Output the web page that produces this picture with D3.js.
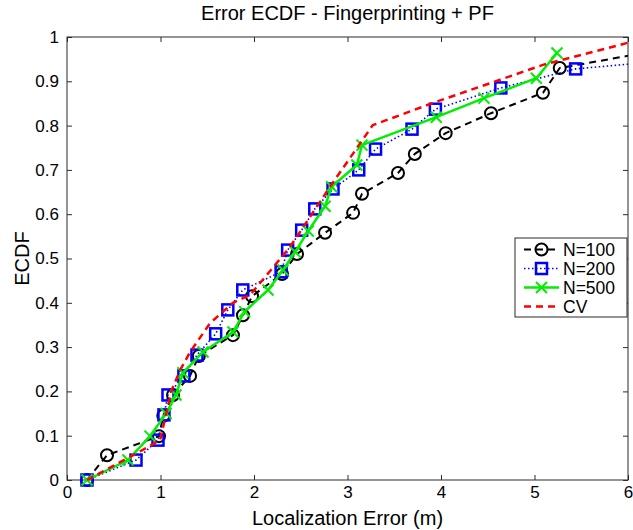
<!DOCTYPE html>
<html>
<head>
<meta charset="utf-8">
<script src="https://cdn.jsdelivr.net/npm/d3@7"></script>
<style>
  html, body { margin: 0; padding: 0; background: #fff; }
  svg { display: block; font-family: "Liberation Sans", Arial, sans-serif; }
</style>
</head>
<body>
<svg id="chart" width="633" height="530"></svg>
<script>
// Localization error (m) vs. empirical CDF, one array pair per series
const n100X = [0.214, 0.428, 0.984, 1.03, 1.134, 1.316, 1.41, 1.775, 1.882, 1.979, 2.30, 2.46, 2.76, 3.06, 3.155, 3.54, 3.72, 4.05, 4.535, 5.09, 5.27, 6.6];
const n100Y = [0, 0.056, 0.099, 0.145, 0.192, 0.235, 0.28, 0.327, 0.372, 0.415, 0.465, 0.51, 0.558, 0.603, 0.646, 0.693, 0.736, 0.783, 0.828, 0.874, 0.930, 0.98];

const n200X = [0.214, 0.738, 0.973, 1.037, 1.08, 1.25, 1.39, 1.59, 1.72, 1.88, 2.29, 2.36, 2.51, 2.65, 2.845, 3.12, 3.30, 3.69, 3.94, 4.64, 5.44, 6.6];
const n200Y = [0, 0.045, 0.090, 0.147, 0.192, 0.235, 0.282, 0.330, 0.384, 0.429, 0.47, 0.519, 0.564, 0.612, 0.657, 0.70, 0.747, 0.792, 0.837, 0.885, 0.928, 0.95];

const n500X = [0.214, 0.652, 0.888, 1.06, 1.166, 1.24, 1.455, 1.775, 1.90, 2.15, 2.31, 2.44, 2.58, 2.76, 2.83, 3.10, 3.155, 3.95, 4.46, 5.02, 5.24];
const n500Y = [0, 0.045, 0.099, 0.15, 0.192, 0.242, 0.289, 0.334, 0.38, 0.429, 0.474, 0.515, 0.562, 0.618, 0.662, 0.711, 0.756, 0.819, 0.862, 0.907, 0.964];

const cvX = [0.214, 0.75, 0.995, 1.07, 1.12, 1.21, 1.32, 1.53, 1.775, 1.96, 2.385, 2.81, 3.27, 3.94, 5.09, 6.6];
const cvY = [0, 0.061, 0.09, 0.158, 0.203, 0.248, 0.29, 0.354, 0.40, 0.418, 0.526, 0.661, 0.801, 0.853, 0.937, 1.02];

// the last N=100 / N=200 / CV entries lie beyond the x range and only carry the line to the edge
const n100Marked = n100X.length - 1;
const n200Marked = n200X.length - 1;

const xTicks = [0, 1, 2, 3, 4, 5, 6];
const yTicks = [0, 0.1, 0.2, 0.3, 0.4, 0.5, 0.6, 0.7, 0.8, 0.9, 1];
const yTickLabels = ["0", "0.1", "0.2", "0.3", "0.4", "0.5", "0.6", "0.7", "0.8", "0.9", "1"];

const titleText = "Error ECDF - Fingerprinting + PF";
const xLabel = "Localization Error (m)";
const yLabel = "ECDF";
const legendNames = ["N=100", "N=200", "N=500", "CV"];

const svg = d3.select("#chart");
const plotLeft = 67, plotRight = 628, plotTop = 37, plotBottom = 480;

const x = d3.scaleLinear().domain([0, 6]).range([plotLeft, plotRight]);
const y = d3.scaleLinear().domain([0, 1]).range([plotBottom, plotTop]);

svg.append("defs").append("clipPath").attr("id", "plotClip")
  .append("rect").attr("x", plotLeft).attr("y", plotTop - 8)
  .attr("width", plotRight - plotLeft).attr("height", plotBottom - plotTop + 16);

const axisColor = "#2b2b2b";
const tickFont = 17;

// axes with inward ticks on all four sides
svg.append("g").attr("transform", `translate(0,${plotBottom})`)
  .call(d3.axisBottom(x).tickValues(xTicks).tickSizeInner(-5).tickSizeOuter(0).tickPadding(6).tickFormat(d3.format("d")))
  .call(g => { g.select(".domain").remove(); g.selectAll("line").attr("stroke", axisColor);
    g.selectAll("text").attr("font-size", tickFont).attr("fill", "#000"); });
svg.append("g").attr("transform", `translate(0,${plotTop})`)
  .call(d3.axisTop(x).tickValues(xTicks).tickSizeInner(-5).tickSizeOuter(0).tickFormat(""))
  .call(g => { g.select(".domain").remove(); g.selectAll("line").attr("stroke", axisColor); });
svg.append("g").attr("transform", `translate(${plotLeft},0)`)
  .call(d3.axisLeft(y).tickValues(yTicks).tickSizeInner(-5).tickSizeOuter(0).tickPadding(8).tickFormat((d, i) => yTickLabels[i]))
  .call(g => { g.select(".domain").remove(); g.selectAll("line").attr("stroke", axisColor);
    g.selectAll("text").attr("font-size", tickFont).attr("fill", "#000"); });
svg.append("g").attr("transform", `translate(${plotRight},0)`)
  .call(d3.axisRight(y).tickValues(yTicks).tickSizeInner(-5).tickSizeOuter(0).tickFormat(""))
  .call(g => { g.select(".domain").remove(); g.selectAll("line").attr("stroke", axisColor); });

svg.append("rect").attr("x", plotLeft).attr("y", plotTop)
  .attr("width", plotRight - plotLeft).attr("height", plotBottom - plotTop)
  .attr("fill", "none").attr("stroke", axisColor).attr("stroke-width", 1);

const plot = svg.append("g").attr("clip-path", "url(#plotClip)");
const line = d3.line().x(d => x(d[0])).y(d => y(d[1]));
const zip = (a, b) => a.map((v, i) => [v, b[i]]);

const series = [
  { name: legendNames[0], pts: zip(n100X, n100Y), marked: n100Marked, color: "#000000", dash: "7,5", width: 2, marker: "circle" },
  { name: legendNames[1], pts: zip(n200X, n200Y), marked: n200Marked, color: "#0000ff", dash: "1.5,2.5", width: 1.6, marker: "square" },
  { name: legendNames[2], pts: zip(n500X, n500Y), marked: n500X.length, color: "#00ee00", dash: null, width: 2.5, marker: "cross" },
  { name: legendNames[3], pts: zip(cvX, cvY), marked: 0, color: "#ff0000", dash: "7,5", width: 2.5, marker: null }
];

function drawMarker(g, type, cx, cy, color) {
  if (type === "circle") {
    g.append("circle").attr("cx", cx).attr("cy", cy).attr("r", 6)
      .attr("fill", "none").attr("stroke", color).attr("stroke-width", 2);
  } else if (type === "square") {
    g.append("rect").attr("x", cx - 5.5).attr("y", cy - 5.5).attr("width", 11).attr("height", 11)
      .attr("fill", "none").attr("stroke", color).attr("stroke-width", 2.5);
  } else if (type === "cross") {
    const s = 5.5;
    g.append("path").attr("d", `M${cx - s},${cy - s}L${cx + s},${cy + s}M${cx - s},${cy + s}L${cx + s},${cy - s}`)
      .attr("stroke", color).attr("stroke-width", 2).attr("fill", "none");
  }
}

series.forEach(s => {
  const g = plot.append("g");
  g.append("path").datum(s.pts).attr("d", line)
    .attr("fill", "none").attr("stroke", s.color).attr("stroke-width", s.width)
    .attr("stroke-dasharray", s.dash).attr("stroke-linejoin", "round");
  if (s.marker) s.pts.slice(0, s.marked).forEach(p => drawMarker(g, s.marker, x(p[0]), y(p[1]), s.color));
});

// legend box
const lg = svg.append("g");
const lgX = 515, lgY = 238, lgW = 112, lgH = 79, rowH = 19;
lg.append("rect").attr("x", lgX).attr("y", lgY).attr("width", lgW).attr("height", lgH)
  .attr("fill", "#fff").attr("stroke", axisColor).attr("stroke-width", 1);
series.forEach((s, i) => {
  const cy = lgY + 11.5 + i * rowH;
  lg.append("line").attr("x1", lgX + 9).attr("x2", lgX + 44).attr("y1", cy).attr("y2", cy)
    .attr("stroke", s.color).attr("stroke-width", s.width).attr("stroke-dasharray", s.dash);
  if (s.marker) drawMarker(lg, s.marker, lgX + 26.5, cy, s.color);
  lg.append("text").attr("x", lgX + 48).attr("y", cy).attr("dy", "0.36em")
    .attr("font-size", 17.5).text(s.name);
});

svg.append("text").attr("x", (plotLeft + plotRight) / 2).attr("y", 20)
  .attr("text-anchor", "middle").attr("font-size", 20).text(titleText);
svg.append("text").attr("x", (plotLeft + plotRight) / 2).attr("y", 525)
  .attr("text-anchor", "middle").attr("font-size", 20).text(xLabel);
svg.append("text").attr("transform", `translate(29,${(plotTop + plotBottom) / 2}) rotate(-90)`)
  .attr("text-anchor", "middle").attr("font-size", 20).text(yLabel);
</script>
</body>
</html>
